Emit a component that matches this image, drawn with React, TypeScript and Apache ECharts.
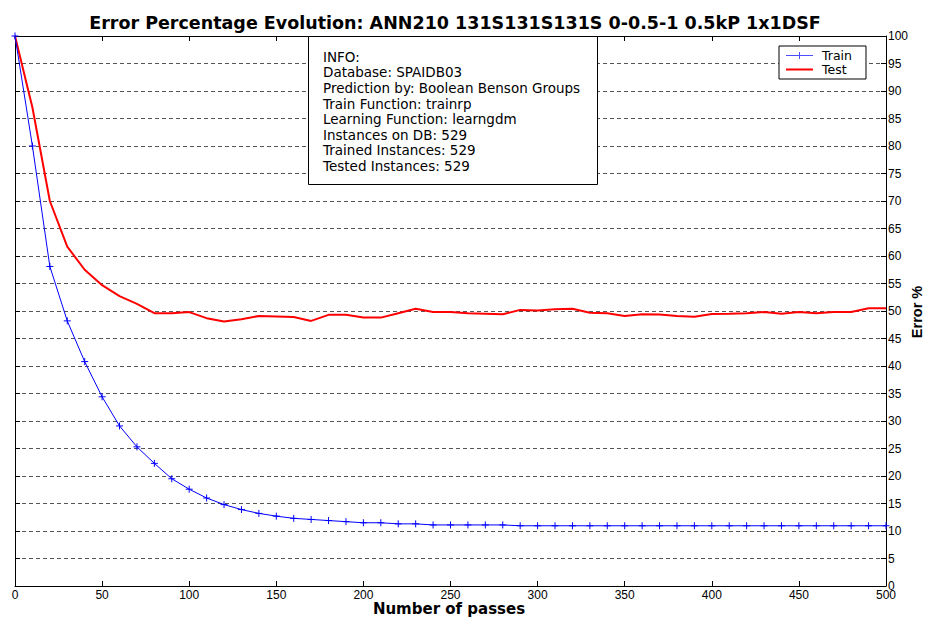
import React, { useEffect, useRef } from "react";
import * as echarts from "echarts";

const passes = [0,10,20,30,40,50,60,70,80,90,100,110,120,130,140,150,160,170,180,190,200,210,220,230,240,250,260,270,280,290,300,310,320,330,340,350,360,370,380,390,400,410,420,430,440,450,460,470,480,490,500];
const trainError = [100,80.0,58.1,48.2,40.8,34.4,29.1,25.3,22.3,19.5,17.6,16.0,14.8,13.9,13.2,12.7,12.3,12.1,11.9,11.7,11.5,11.5,11.3,11.3,11.1,11.1,11.1,11.1,11.1,10.95,10.95,10.95,10.95,10.95,10.95,10.95,10.95,10.95,10.95,10.95,10.95,10.95,10.95,10.95,10.95,10.95,10.95,10.95,10.95,10.95,10.95];
const testError = [100,87,70,61.7,57.5,54.7,52.7,51.3,49.6,49.6,49.8,48.7,48.1,48.5,49.1,49.0,48.9,48.2,49.3,49.3,48.8,48.8,49.6,50.4,49.8,49.8,49.6,49.5,49.4,50.2,50.1,50.3,50.4,49.7,49.6,49.1,49.4,49.35,49.1,48.97,49.45,49.5,49.6,49.8,49.5,49.8,49.6,49.8,49.8,50.5,50.5];
const infoLines = [
  "INFO:",
  "Database: SPAIDB03",
  "Prediction by: Boolean Benson Groups",
  "Train Function: trainrp",
  "Learning Function: learngdm",
  "Instances on DB: 529",
  "Trained Instances: 529",
  "Tested Instances: 529",
];
const titleText = "Error Percentage Evolution: ANN210 131S131S131S 0-0.5-1 0.5kP 1x1DSF";
const xName = "Number of passes";
const yName = "Error %";

const FONT = "Arial, 'Liberation Sans', sans-serif";
const WIDE = "'DejaVu Sans', Verdana, sans-serif";

export default function App() {
  const ref = useRef<HTMLDivElement>(null);
  useEffect(() => {
    if (!ref.current) return;
    const chart = echarts.init(ref.current, null, { renderer: "svg" });
    const trainData = passes.map((p, i) => [p, trainError[i]]);
    const testData = passes.map((p, i) => [p, testError[i]]);
    const axisLine = { show: true, onZero: false, lineStyle: { color: "#000", width: 1 } };
    const tick = { show: true, inside: true, length: 5, lineStyle: { color: "#000" } };
    chart.setOption({
      animation: false,
      backgroundColor: "#fff",
      title: {
        text: titleText,
        left: 450,
        textAlign: "center",
        top: 9,
        textStyle: { fontFamily: WIDE, fontSize: 17.5, fontWeight: "bold", color: "#000" },
      },
      legend: {
        orient: "vertical",
        left: 779,
        top: 46,
        padding: [3, 14, 3, 7],
        itemGap: 1,
        itemWidth: 27,
        itemHeight: 14,
        borderColor: "#000",
        borderWidth: 1,
        borderRadius: 0,
        backgroundColor: "#fff",
        textStyle: { fontFamily: WIDE, fontSize: 12.5, color: "#000", padding: [0, 0, 0, 4] },
        data: [
          { name: "Train", icon: "path://M0,6H27V7H0Z M13,3H14V10H13Z", itemStyle: { borderWidth: 0, color: "#4d4dff" } },
          { name: "Test", icon: "path://M0,0H27V2H0Z", itemStyle: { borderWidth: 0, color: "#ff0000" } },
        ],
        z: 20,
      },
      grid: { left: 15, right: 40, top: 36, bottom: 31, show: false, containLabel: false, outerBoundsMode: "none" },
      xAxis: [
        {
          type: "value",
          min: 0,
          max: 500,
          interval: 50,
          position: "bottom",
          axisLine,
          axisTick: tick,
          axisLabel: { fontFamily: FONT, fontSize: 12, color: "#000", margin: 3 },
          splitLine: { show: false },
        },
        {
          type: "value",
          min: 0,
          max: 500,
          interval: 50,
          position: "top",
          axisLine,
          axisTick: tick,
          axisLabel: { show: false },
          splitLine: { show: false },
        },
      ],
      yAxis: [
        {
          type: "value",
          min: 0,
          max: 100,
          interval: 5,
          position: "right",
          axisLine,
          axisTick: tick,
          axisLabel: { fontFamily: FONT, fontSize: 12, color: "#000", margin: 2 },
          splitLine: {
            show: true,
            showMinLine: false,
            showMaxLine: false,
            lineStyle: { color: "#555", type: [4, 3], width: 1 },
          },
        },
        {
          type: "value",
          min: 0,
          max: 100,
          interval: 5,
          position: "left",
          axisLine,
          axisTick: tick,
          axisLabel: { show: false },
          splitLine: { show: false },
        },
      ],
      series: [
        {
          name: "Train",
          type: "line",
          data: trainData,
          symbol: "path://M0 5 L10 5 M5 0 L5 10",
          symbolSize: 7,
          showSymbol: true,
          lineStyle: { color: "#0000ff", width: 1 },
          itemStyle: { color: "#0000ff", borderColor: "#0000ff", borderWidth: 1 },
          z: 5,
        },
        {
          name: "Test",
          type: "line",
          data: testData,
          showSymbol: false,
          symbol: "none",
          lineStyle: { color: "#ff0000", width: 2 },
          itemStyle: { color: "#ff0000" },
          z: 4,
        },
      ],
      graphic: [
        {
          type: "rect",
          z: 100,
          shape: { x: 308.5, y: 36.5, width: 289, height: 148 },
          style: { fill: "#fff", stroke: "#000", lineWidth: 1 },
        },
        {
          type: "text",
          z: 101,
          x: 323,
          y: 49,
          style: {
            text: infoLines.join("\n"),
            fontFamily: WIDE,
            fontSize: 13.5,
            lineHeight: 15.6,
            fill: "#000",
            verticalAlign: "top",
            align: "left",
          },
        },
        {
          type: "text",
          x: 449,
          y: 608.5,
          z: 100,
          style: {
            text: xName,
            fontFamily: WIDE,
            fontSize: 15,
            fontWeight: "bold",
            fill: "#000",
            align: "center",
            verticalAlign: "middle",
          },
        },
        {
          type: "text",
          x: 917,
          y: 312,
          rotation: Math.PI / 2,
          z: 100,
          style: {
            text: yName,
            fontFamily: FONT,
            fontSize: 14.5,
            fontWeight: "bold",
            fill: "#000",
            align: "center",
            verticalAlign: "middle",
          },
        },
      ],
    });
    return () => chart.dispose();
  }, []);
  return <div ref={ref} style={{ position: "fixed", left: 0, top: 0, width: 926, height: 617 }} />;
}
